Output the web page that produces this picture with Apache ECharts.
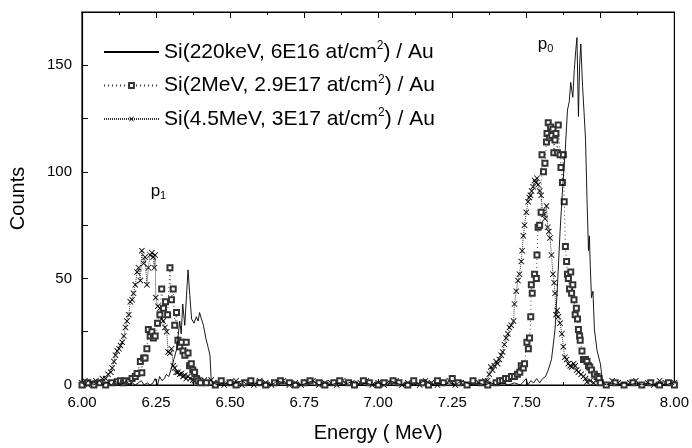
<!DOCTYPE html>
<html>
<head>
<meta charset="utf-8">
<script src="https://cdn.jsdelivr.net/npm/echarts@6/dist/echarts.min.js"></script>
<style>
  html, body { margin: 0; padding: 0; background: #fff; }
  #chart { width: 692px; height: 448px; }
</style>
</head>
<body>
<div id="chart"></div>
<script>
// spectra: [energy MeV, counts]
const si220keV = [
  [6.00,1],[6.01,0],[6.02,2],[6.03,1],[6.04,0],[6.05,1],[6.06,2],[6.07,0],[6.08,1],[6.09,1],
  [6.10,0],[6.11,2],[6.12,1],[6.13,0],[6.14,1],[6.15,2],[6.16,0],[6.17,1],[6.18,0],[6.19,1],
  [6.20,2],[6.21,0],[6.22,1],[6.23,0],[6.24,1],
  [6.247,3],[6.255,0],[6.262,4],[6.27,2],[6.278,3],[6.285,5],[6.293,4],[6.30,7],[6.31,12],
  [6.32,17],[6.33,30],[6.335,24],[6.34,38],[6.347,28],[6.352,40],[6.358,54],[6.364,42],
  [6.37,31],[6.378,29],[6.386,32],[6.392,30],[6.397,34],[6.403,31],[6.41,28],[6.418,22],
  [6.427,17],[6.432,14],[6.436,3],[6.44,1],
  [6.46,0],[6.48,1],[6.50,0],[6.52,1],[6.54,2],[6.56,0],[6.58,1],[6.60,0],[6.62,1],[6.64,0],
  [6.66,2],[6.68,1],[6.70,0],[6.72,1],[6.74,0],[6.76,1],[6.78,2],[6.80,0],[6.82,1],[6.84,0],
  [6.86,1],[6.88,0],[6.90,1],[6.92,2],[6.94,0],[6.96,1],[6.98,0],[7.00,1],[7.02,0],[7.04,2],
  [7.06,1],[7.08,0],[7.10,1],[7.12,0],[7.14,1],[7.16,2],[7.18,0],[7.20,1],[7.22,0],[7.24,1],
  [7.26,0],[7.28,2],[7.30,1],[7.32,0],[7.34,1],[7.36,0],[7.38,1],[7.40,0],[7.42,1],[7.44,0],
  [7.46,1],[7.48,0],
  [7.50,3],[7.505,0],[7.515,2],[7.525,1],[7.535,3],[7.545,1],[7.555,3],[7.565,4],[7.574,7],
  [7.585,12],[7.597,26],[7.605,46],[7.614,72],[7.622,91],[7.631,109],[7.639,129],[7.645,133],
  [7.65,142],[7.657,135],[7.662,148],[7.667,157],[7.671,163],[7.676,126],[7.68,150],
  [7.684,160],[7.69,140],[7.695,128],[7.70,115],[7.705,87],[7.71,63],[7.713,70],[7.716,56],
  [7.72,41],[7.725,44],[7.73,26],[7.739,16],[7.75,10],[7.758,1],
  [7.77,0],[7.79,1],[7.81,0],[7.83,1],[7.85,0],[7.87,1],[7.89,0],[7.91,1],[7.93,0],[7.95,1],
  [7.97,0],[7.99,1],[8.00,0]
];

const si2MeV = [
  [6.00,0],[6.02,1],[6.04,0],[6.06,1],[6.08,0],[6.10,1],
  [6.119,1.5],[6.13,2],[6.14,1],[6.147,2],[6.158,1.5],[6.169,3],[6.18,4],[6.186,5.4],
  [6.197,11],[6.202,5.7],[6.208,12.7],[6.213,12.7],[6.219,17],[6.224,26],[6.23,23],
  [6.236,25],[6.241,22],[6.247,23],[6.255,29],[6.263,33],[6.269,45],[6.275,36],[6.282,39],
  [6.289,33],[6.297,55],[6.302,40],[6.308,45],[6.313,28],[6.319,34],[6.324,21],[6.33,18],
  [6.336,20],[6.341,16],[6.347,14],[6.352,20],[6.358,15],[6.363,9],[6.369,10],[6.374,7],
  [6.38,6],[6.386,3],[6.392,2],[6.40,1],
  [6.42,1],[6.45,0],[6.47,2],[6.50,1],[6.52,0],[6.55,1],[6.57,2],[6.60,1],[6.62,0],[6.65,1],
  [6.67,2],[6.70,1],[6.72,0],[6.75,1],[6.77,2],[6.80,1],[6.82,0],[6.85,1],[6.87,2],[6.90,1],
  [6.92,0],[6.95,2],[6.97,1],[7.00,0],[7.02,1],[7.05,2],[7.07,1],[7.10,0],[7.12,2],[7.15,1],
  [7.17,0],[7.20,2],[7.22,1],[7.25,3],[7.27,1],[7.30,0],[7.32,2],[7.35,1],[7.37,0],
  [7.398,1],[7.41,2],[7.42,2],[7.43,3],[7.44,3],[7.45,4],[7.46,4],[7.47,5],[7.478,6],
  [7.483,9],[7.49,8],[7.494,10],[7.502,20],[7.507,17],[7.511,22],[7.515,32],[7.517,47],
  [7.52,43],[7.528,52],[7.534,50],[7.536,61],[7.54,74],[7.545,75],[7.55,81],[7.553,108],
  [7.558,100],[7.563,104],[7.568,114],[7.57,118],[7.574,123],[7.578,116],[7.582,121],
  [7.586,117],[7.59,120],[7.593,109],[7.597,115],[7.60,118],[7.605,109],[7.608,122],
  [7.614,108],[7.617,102],[7.622,95],[7.625,108],[7.628,86],[7.632,65],[7.636,58],
  [7.639,52],[7.642,50],[7.646,45],[7.65,53],[7.653,43],[7.657,47],[7.661,40],[7.665,33],
  [7.669,36],[7.673,31],[7.676,26],[7.68,23],[7.682,21],[7.688,16],[7.693,12],[7.70,12],
  [7.705,11],[7.71,9],[7.714,8.5],[7.72,7],[7.73,5],[7.739,4],[7.745,3],[7.75,1],
  [7.77,0],[7.80,1],[7.83,0],[7.86,1],[7.89,0],[7.92,1],[7.95,0],[7.98,1],[8.00,0]
];

const si45MeV = [
  [6.00,1],[6.01,2],[6.02,0],[6.03,1],
  [6.036,1],[6.047,2],[6.058,1.5],[6.069,3],[6.08,3],[6.088,5],[6.097,6],[6.102,8],
  [6.108,11],[6.113,14],[6.119,16],[6.125,17],[6.13,18.5],[6.136,20],[6.141,23],[6.147,27],
  [6.152,30],[6.158,33],[6.163,39],[6.169,40],[6.174,43],[6.18,47],[6.186,53],[6.191,55],
  [6.197,49],[6.202,63],[6.208,57],[6.213,60],[6.219,47],[6.224,55],[6.23,61],[6.236,62],
  [6.24,60],[6.244,55],[6.247,61],[6.249,41],[6.256,37],[6.263,36],[6.269,31],[6.274,30],
  [6.28,27],[6.286,25],[6.291,15.5],[6.297,15],[6.302,17],[6.308,9],[6.313,8],[6.318,6],
  [6.324,6],[6.33,5],[6.336,5.4],[6.341,4],[6.347,4.6],[6.352,3],[6.358,4],[6.365,3],
  [6.374,2.3],[6.38,2],[6.39,3],[6.40,2],[6.413,2.3],[6.425,1],[6.436,2.3],[6.445,1],
  [6.46,1],[6.48,0],[6.50,1],[6.52,2],[6.54,0],[6.56,1],[6.58,0],[6.60,2],[6.62,1],[6.64,0],
  [6.66,1],[6.68,2],[6.70,0],[6.72,1],[6.74,0],[6.76,1],[6.78,2],[6.80,0],[6.82,1],[6.84,1],
  [6.86,0],[6.88,2],[6.90,1],[6.92,0],[6.94,1],[6.96,2],[6.98,0],[7.00,1],[7.02,0],[7.04,1],
  [7.06,2],[7.08,0],[7.10,1],[7.12,1],[7.14,0],[7.16,2],[7.18,1],[7.20,0],[7.22,1],[7.24,2],
  [7.26,0],[7.28,1],[7.30,0],[7.32,2],[7.34,1],
  [7.352,1],[7.36,2],[7.369,2],[7.375,5],[7.38,8.5],[7.386,7],[7.392,9],[7.398,11],
  [7.403,10],[7.409,12],[7.415,14],[7.42,15.5],[7.426,19],[7.432,22],[7.438,24],[7.443,27],
  [7.449,28],[7.457,30],[7.46,38],[7.466,44],[7.472,49],[7.477,52],[7.483,58],[7.486,63],
  [7.49,70],[7.494,75],[7.50,81],[7.506,86],[7.51,88],[7.514,89],[7.518,91],[7.523,93],
  [7.528,96],[7.532,95],[7.536,97],[7.54,94],[7.545,91],[7.55,89],[7.555,81],[7.559,80],
  [7.563,78],[7.568,84],[7.572,74],[7.576,72],[7.58,69],[7.585,61],[7.59,52],[7.594,48],
  [7.597,43],[7.60,33],[7.604,35],[7.608,32],[7.614,29],[7.62,24],[7.625,18],[7.63,13],
  [7.636,12],[7.642,10],[7.648,9],[7.653,8.5],[7.66,10],[7.665,9],[7.67,7],[7.676,6],
  [7.685,5],[7.693,4],[7.70,3],[7.705,1.5],[7.715,2],[7.727,1],
  [7.75,1],[7.77,0],[7.79,2],[7.81,1],[7.83,0],[7.85,1],[7.87,2],[7.89,0],[7.91,1],[7.93,0],
  [7.95,2],[7.97,1],[8.00,1]
];

const seriesNames = ['s220', 's2', 's45'];
const legendLabels = {
  s220: ['Si(220keV, 6E16 at/cm', ') / Au'],
  s2: ['Si(2MeV, 2.9E17 at/cm', ') / Au'],
  s45: ['Si(4.5MeV, 3E17 at/cm', ') / Au']
};
const peakLabels = [
  { coord: [6.258, 91], sub: '1' },
  { coord: [7.565, 160], sub: '0' }
];

const chart = echarts.init(document.getElementById('chart'), null, { renderer: 'canvas' });
const font = 'Liberation Sans, Arial, sans-serif';
const crossPath = 'path://M0,1 L1,0 L5,4 L9,0 L10,1 L6,5 L10,9 L9,10 L5,6 L1,10 L0,9 L4,5 Z';

const option = {
  animation: false,
  backgroundColor: '#fff',
  grid: { left: 82, right: 15, top: 12, bottom: 59, show: true, borderColor: '#000', borderWidth: 1.2 },
  legend: {
    orient: 'vertical',
    left: 98,
    top: 35,
    itemWidth: 55,
    itemHeight: 6,
    itemGap: 11,
    data: [
      { name: 's220', itemStyle: { opacity: 0 } },
      { name: 's2' },
      { name: 's45' }
    ],
    formatter: function (name) {
      const p = legendLabels[name];
      return '{t|' + p[0] + '}{s|2}{t|' + p[1] + '}';
    },
    textStyle: {
      rich: {
        t: { fontFamily: font, fontSize: 21, color: '#000', lineHeight: 24 },
        s: { fontFamily: font, fontSize: 12, color: '#000', verticalAlign: 'top', lineHeight: 16 }
      }
    }
  },
  xAxis: [{
    type: 'value',
    min: 6, max: 8, interval: 0.25,
    name: 'Energy ( MeV)',
    nameLocation: 'middle',
    nameGap: 38,
    nameTextStyle: { fontFamily: font, fontSize: 20, color: '#000' },
    axisLine: { lineStyle: { color: '#000', width: 1.2 } },
    axisTick: { inside: true, length: 6, lineStyle: { color: '#000' } },
    minorTick: { show: true, splitNumber: 2, length: 3, lineStyle: { color: '#000' } },
    axisLabel: { fontFamily: font, fontSize: 15, color: '#000', margin: 10,
      formatter: v => v.toFixed(2) },
    splitLine: { show: false }
  }, {
    type: 'value',
    position: 'top',
    min: 6, max: 8, interval: 0.25,
    axisLine: { lineStyle: { color: '#000', width: 1.2 } },
    axisTick: { inside: true, length: 6, lineStyle: { color: '#000' } },
    minorTick: { show: true, splitNumber: 2, length: 3, lineStyle: { color: '#000' } },
    axisLabel: { show: false },
    splitLine: { show: false }
  }],
  yAxis: {
    type: 'value',
    min: 0, max: 175, interval: 25,
    name: 'Counts',
    nameLocation: 'middle',
    nameGap: 54,
    nameTextStyle: { fontFamily: font, fontSize: 20, color: '#000' },
    axisLine: { show: true, lineStyle: { color: '#000', width: 1.2 } },
    axisTick: { show: true, inside: true, length: 6, lineStyle: { color: '#000' } },
    axisLabel: { fontFamily: font, fontSize: 15, color: '#000', margin: 10,
      formatter: v => (v % 50 === 0 ? String(v) : '') },
    splitLine: { show: false }
  },
  series: [{
    name: 's220',
    type: 'line',
    data: si220keV,
    symbol: 'none',
    lineStyle: { color: '#000', width: 0.9 },
    itemStyle: { color: '#000' },
    z: 3,
    markPoint: {
      symbol: 'circle',
      symbolSize: 0,
      label: {
        show: true,
        position: 'inside',
        formatter: function (p) { return '{p|p}{b|' + p.data.sub + '}'; },
        rich: {
          p: { fontFamily: font, fontSize: 17, color: '#000' },
          b: { fontFamily: font, fontSize: 11, color: '#000', verticalAlign: 'bottom', padding: [10, 0, 0, 0] }
        }
      },
      data: peakLabels
    }
  }, {
    name: 's2',
    type: 'line',
    data: si2MeV,
    symbol: 'emptyRect',
    symbolSize: 5,
    showAllSymbol: true,
    lineStyle: { color: '#333', width: 0.9, type: [1, 3] },
    itemStyle: { color: '#333', borderWidth: 0.8 },
    z: 2
  }, {
    name: 's45',
    type: 'line',
    data: si45MeV,
    symbol: crossPath,
    symbolSize: 6,
    showAllSymbol: true,
    lineStyle: { color: '#333', width: 1, type: [1, 1] },
    itemStyle: { color: '#000' },
    z: 1
  }]
};

chart.setOption(option);
</script>
</body>
</html>
